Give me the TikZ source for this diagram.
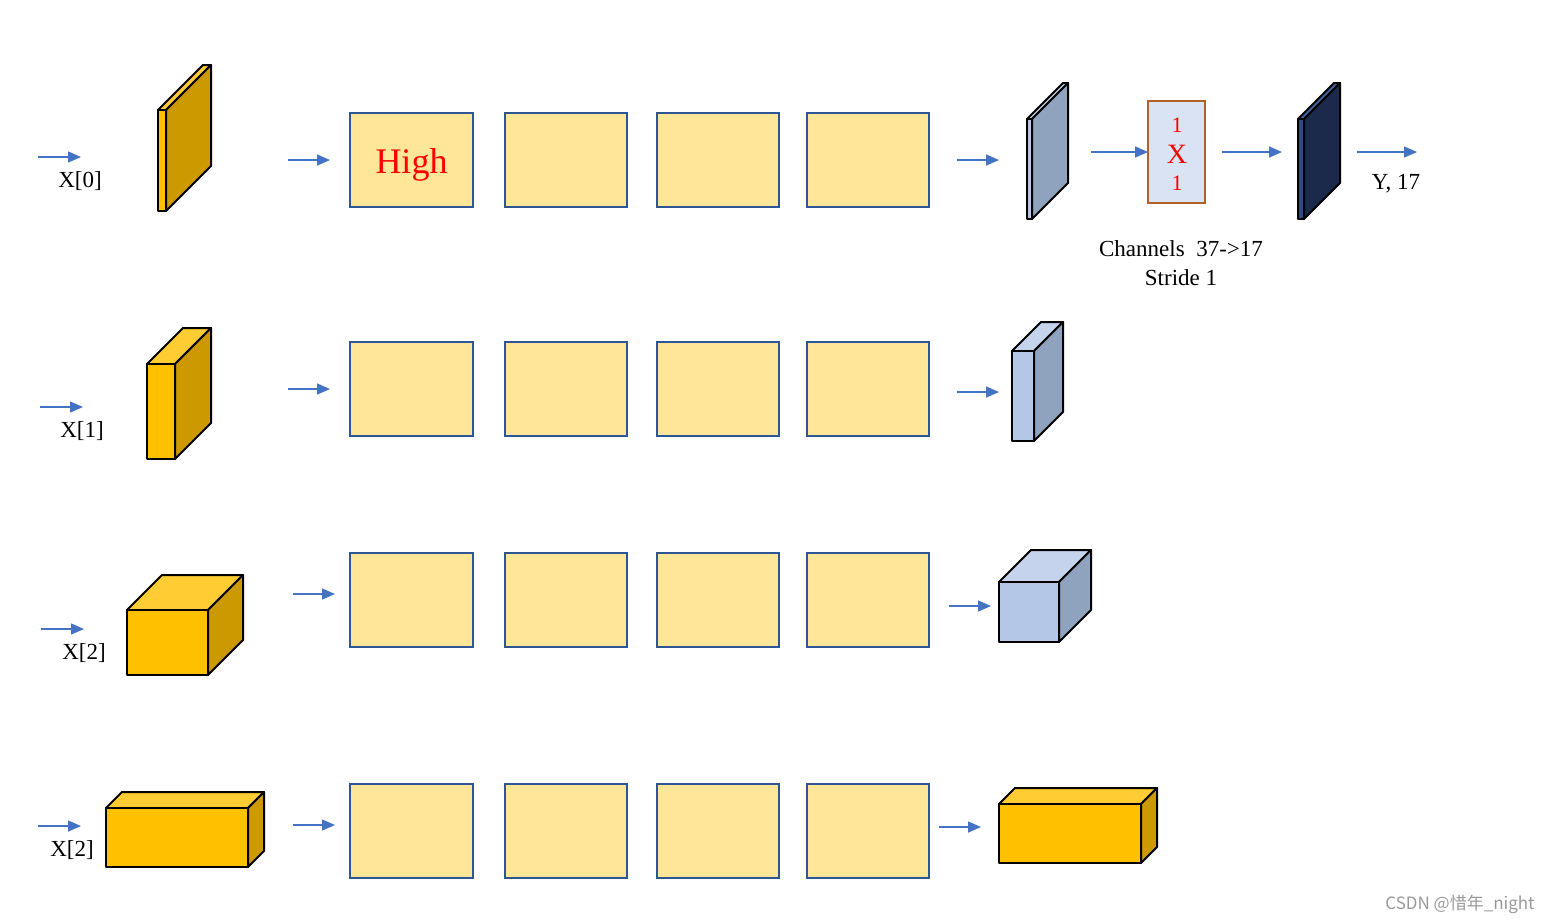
\documentclass[tikz,border=0pt]{standalone}
\usepackage{fontspec}
\setmainfont{Liberation Serif}
\newfontfamily\cjkfont{Noto Sans CJK SC}
\usetikzlibrary{arrows.meta}
\definecolor{yfront}{HTML}{FFC000}
\definecolor{ytop}{HTML}{FFCC33}
\definecolor{yside}{HTML}{CC9900}
\definecolor{bfront}{HTML}{B4C7E7}
\definecolor{btop}{HTML}{C5D4EC}
\definecolor{bside}{HTML}{8FA2BE}
\definecolor{nfront}{HTML}{2E4A80}
\definecolor{ntop}{HTML}{3F62A0}
\definecolor{nside}{HTML}{1B2A4A}
\definecolor{boxfill}{HTML}{FFE699}
\definecolor{boxline}{HTML}{2F5597}
\definecolor{arrcol}{HTML}{4472C4}
\definecolor{kfill}{HTML}{DAE3F3}
\definecolor{kline}{RGB}{180,95,40}
\newcommand{\cuboid}[8]{%
  % x1 y1 x2 y2 depth front top side
  \draw[cub,fill=#7] (#1,#2) -- ({#1+#5},{#2-#5}) -- ({#3+#5},{#2-#5}) -- (#3,#2) -- cycle;
  \draw[cub,fill=#8] (#3,#2) -- ({#3+#5},{#2-#5}) -- ({#3+#5},{#4-#5}) -- (#3,#4) -- cycle;
  \draw[cub,fill=#6] (#1,#2) rectangle (#3,#4);
}
\newcommand{\arrow}[4]{%
  \coordinate (#1s) at (#2,#4);
  \coordinate (#1e) at (#3,#4);
  \draw[flow] (#1s) -- (#1e);
}
\begin{document}
\begin{tikzpicture}[x=0.5pt,y=-0.5pt,
  cub/.style={draw=black,line width=1pt,line join=round},
  flow/.style={draw=arrcol,line width=0.7pt,-{Triangle[length=6.5pt,width=5.5pt]}},
  fbox/.style={draw=boxline,fill=boxfill,line width=1pt,minimum width=61.25pt,minimum height=47pt,inner sep=0pt},
  lbl/.style={font=\fontsize{11.5}{14}\selectfont,inner sep=0pt,text=black},
]
\useasboundingbox (0,0) rectangle (1550,923);
% ---------- Row 1 ----------
\arrow{a01}{38}{81}{157}
\node[lbl] (x0) at (80,181) {X[0]};
\cuboid{158}{110}{166}{211}{45}{yfront}{ytop}{yside}
\arrow{a02}{288}{330}{160}
\node[fbox] (b11) at (411.5,160) {};
\node[fbox] (b12) at (566,160) {};
\node[fbox] (b13) at (718,160) {};
\node[fbox] (b14) at (868,160) {};
\node[text=red,font=\fontsize{18}{20}\selectfont,inner sep=0pt] (high) at (411.5,165) {High};
\arrow{a03}{957}{999}{160}
\cuboid{1027}{119}{1032}{219}{36}{bfront}{btop}{bside}
\arrow{a04}{1091}{1148}{152}
\node[draw=kline,fill=kfill,line width=1pt,minimum width=28.5pt,minimum height=51pt,inner sep=0pt] (k) at (1176.5,152) {};
\node[text=red,font=\fontsize{11}{12}\selectfont,inner sep=0pt] (k1) at (1177,125) {1};
\node[text=red,font=\fontsize{14}{14}\selectfont,inner sep=0pt] (kx) at (1177,154) {X};
\node[text=red,font=\fontsize{11}{12}\selectfont,inner sep=0pt] (k2) at (1177,183) {1};
\arrow{a05}{1222}{1282}{152}
\cuboid{1298}{119}{1304}{219}{36}{nfront}{ntop}{nside}
\arrow{a06}{1357}{1417}{152}
\node[lbl] (y) at (1396,184) {Y, 17};
\node[lbl] (ch) at (1181,249) {Channels\ \ 37->17};
\node[lbl] (st) at (1181,278) {Stride 1};
% ---------- Row 2 ----------
\arrow{a11}{40}{83}{407}
\node[lbl] (x1) at (82,431) {X[1]};
\cuboid{147}{364}{175}{459}{36}{yfront}{ytop}{yside}
\arrow{a12}{288}{330}{389}
\node[fbox] (b21) at (411.5,389) {};
\node[fbox] (b22) at (566,389) {};
\node[fbox] (b23) at (718,389) {};
\node[fbox] (b24) at (868,389) {};
\arrow{a13}{957}{999}{392}
\cuboid{1012}{351}{1034}{441}{29}{bfront}{btop}{bside}
% ---------- Row 3 ----------
\arrow{a21}{41}{84}{629}
\node[lbl] (x2) at (84,653) {X[2]};
\cuboid{127}{610}{208}{675}{35}{yfront}{ytop}{yside}
\arrow{a22}{293}{335}{594}
\node[fbox] (b31) at (411.5,600) {};
\node[fbox] (b32) at (566,600) {};
\node[fbox] (b33) at (718,600) {};
\node[fbox] (b34) at (868,600) {};
\arrow{a23}{949}{991}{606}
\cuboid{999}{582}{1059}{642}{32}{bfront}{btop}{bside}
% ---------- Row 4 ----------
\arrow{a31}{38}{81}{826}
\node[lbl] (x3) at (72,850) {X[2]};
\cuboid{106}{808}{248}{867}{16}{yfront}{ytop}{yside}
\arrow{a32}{293}{335}{825}
\node[fbox] (b41) at (411.5,831) {};
\node[fbox] (b42) at (566,831) {};
\node[fbox] (b43) at (718,831) {};
\node[fbox] (b44) at (868,831) {};
\arrow{a33}{939}{981}{827}
\cuboid{999}{804}{1141}{863}{16}{yfront}{ytop}{yside}
% watermark
\node[font=\cjkfont\fontsize{8.5}{9}\selectfont,text=black!40,inner sep=0pt] (wm) at (1460,904) {CSDN @惜年\_night};
\end{tikzpicture}
\end{document}
